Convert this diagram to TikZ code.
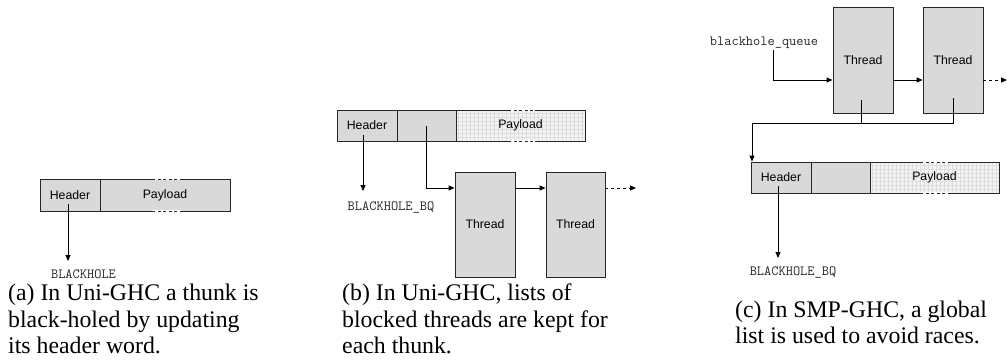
\documentclass[tikz,border=0pt]{standalone}
\usepackage{fontspec}
\setmainfont{Liberation Serif}
\setsansfont{Liberation Sans}
\usetikzlibrary{arrows.meta}
\definecolor{cellgray}{HTML}{D9D9D9}
\definecolor{gridbg}{HTML}{F4F4F4}
\definecolor{gridln}{HTML}{DDDDDD}
\begin{document}
\begin{tikzpicture}[x=1pt,y=-1pt,
  cell/.style={draw=black!85, line width=0.9pt, fill=cellgray, minimum height=31pt, inner sep=0pt,
    font=\sffamily\fontsize{12.3}{14}\selectfont},
  gridcell/.style={cell, fill=gridbg, path picture={\draw[gridln, line width=0.35pt, step=4pt]
    (path picture bounding box.south west) grid (path picture bounding box.north east);}},
  thread/.style={cell, minimum width=60pt, minimum height=105pt},
  ptr/.style={line width=0.9pt, -{Triangle[length=6pt,width=5pt]}},
  wire/.style={line width=0.9pt},
  mono/.style={inner sep=0pt, text=black!85, font=\ttfamily\fontsize{14}{16}\selectfont},
  captext/.style={anchor=base west, inner sep=0pt, font=\rmfamily\fontsize{23.8}{26.5}\selectfont},
  gapline/.style={white, line width=1.6pt},
  dashseg/.style={black!85, line width=0.9pt, dash pattern=on 3pt off 2.5pt}]
\useasboundingbox (0,0) rectangle (1008,360);

% ---------- (a) ----------
\node[cell, minimum width=60pt, minimum height=32pt] (aH) at (70,195) {Header};
\node[cell, minimum width=130pt, minimum height=32pt] (aP) at (165,195) {Payload};
\draw[gapline] (152,179) -- (182,179);
\draw[gapline] (152,211) -- (182,211);
\draw[dashseg] (152,179) -- (182,179);
\draw[dashseg] (152,211) -- (182,211);
\node[mono] (aBH) at (83.5,274.5) {BLACKHOLE};
\coordinate (aHp) at (68,204);
\coordinate (aEnd) at (68,261);
\draw[ptr] (aHp) -- (aEnd);
\node[captext] (capA1) at (8,300.5) {(a) In Uni-GHC a thunk is};
\node[captext] (capA2) at (8,327) {black-holed by updating};
\node[captext] (capA3) at (8,353.5) {its header word.};

% ---------- (b) ----------
\node[cell, minimum width=60pt] (bH) at (367,125.5) {Header};
\node[cell, minimum width=59pt] (bM) at (426.5,125.5) {};
\node[gridcell, minimum width=129pt] (bP) at (520.5,125.5) {Payload};
\draw[gapline] (508,110) -- (535,110);
\draw[gapline] (508,141) -- (535,141);
\draw[dashseg] (508,110) -- (535,110);
\draw[dashseg] (508,141) -- (535,141);
\node[thread] (bT1) at (485,224.5) {Thread};
\node[thread, minimum width=59pt] (bT2) at (575.5,224.5) {Thread};
\node[mono] (bBH) at (391,208) {BLACKHOLE\_BQ};
\coordinate (bHp) at (363,135);
\coordinate (bEnd) at (363,191);
\draw[ptr] (bHp) -- (bEnd);
\coordinate (bMp) at (426,126);
\coordinate (bRow) at (0,188);
\coordinate (bTail) at (636,188);
\draw[ptr] (bMp) |- (bRow -| bT1.west);
\draw[ptr] (bRow -| bT1.east) -- (bRow -| bT2.west);
\draw[ptr, dash pattern=on 3pt off 3pt] (bRow -| bT2.east) -- (bTail);
\node[captext] (capB1) at (342,300.5) {(b) In Uni-GHC, lists of};
\node[captext] (capB2) at (342,327) {blocked threads are kept for};
\node[captext] (capB3) at (342,353.5) {each thunk.};

% ---------- (c) ----------
\node[thread, minimum height=106pt] (cT1) at (863,60) {Thread};
\node[thread, minimum height=106pt] (cT2) at (953,60) {Thread};
\node[mono] (cQL) at (764,43) {blackhole\_queue};
\coordinate (cQ) at (773,50);
\coordinate (cRow) at (0,80);
\coordinate (cTail) at (1007,80);
\draw[ptr] (cQ) |- (cRow -| cT1.west);
\draw[ptr] (cRow -| cT1.east) -- (cRow -| cT2.west);
\draw[ptr, dash pattern=on 3pt off 3pt] (cRow -| cT2.east) -- (cTail);
\node[cell, minimum width=60pt] (cH) at (781,177.5) {Header};
\node[cell, minimum width=59pt] (cM) at (840.5,177.5) {};
\node[gridcell, minimum width=129pt] (cP) at (934.5,177.5) {Payload};
\draw[gapline] (920,162) -- (950,162);
\draw[gapline] (920,193) -- (950,193);
\draw[dashseg] (920,162) -- (950,162);
\draw[dashseg] (920,193) -- (950,193);
\coordinate (c1p) at (861,100);
\coordinate (c2p) at (953,98);
\coordinate (cDrop) at (752,123);
\draw[wire] (c1p) -- (c1p |- cDrop);
\draw[ptr] (c2p) |- (cDrop) -- (cDrop |- cH.north);
\node[mono] (cBH) at (793,273) {BLACKHOLE\_BQ};
\coordinate (cHp) at (778,186);
\coordinate (cEnd) at (778,258);
\draw[ptr] (cHp) -- (cEnd);
\node[captext] (capC1) at (735,317) {(c) In SMP-GHC, a global};
\node[captext] (capC2) at (735,343) {list is used to avoid races.};
\end{tikzpicture}
\end{document}
